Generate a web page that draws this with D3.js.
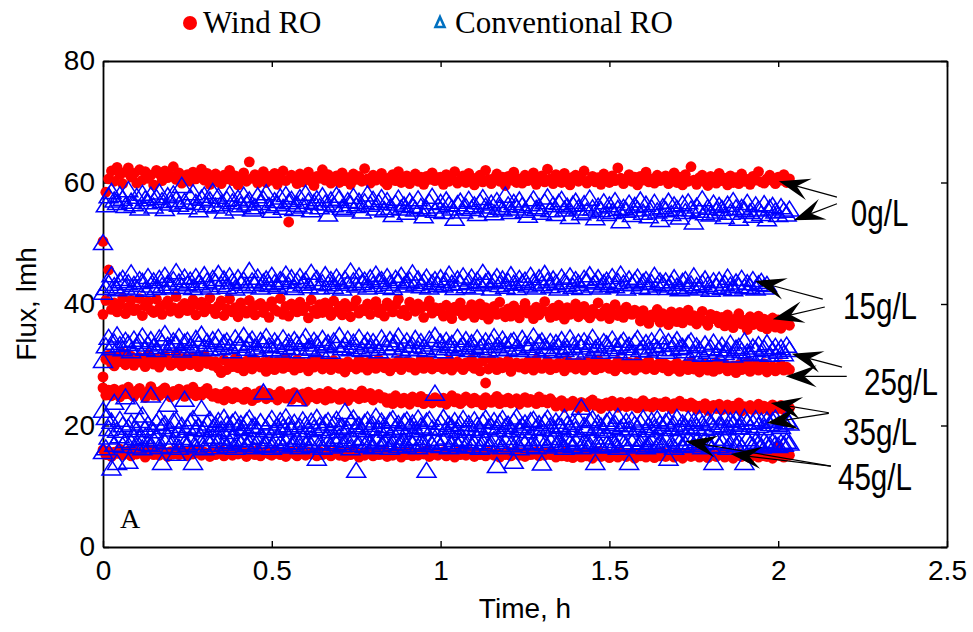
<!DOCTYPE html>
<html>
<head>
<meta charset="utf-8">
<script src="https://cdn.jsdelivr.net/npm/d3@7/dist/d3.min.js"></script>
<style>
  html, body { margin: 0; padding: 0; background: #ffffff; }
  svg { display: block; }
</style>
</head>
<body>
<svg id="chart" width="973" height="632"></svg>
<script>
// ---- Data -------------------------------------------------------------
// Sampling clock shared by every run, minutes from start.
const timeMin = [
  0,0.5,1,1.5,2,2.5,3,3.5,4,4.5,5,5.5,6,6.5,7,7.5,8,8.5,9,9.5,
  10,10.5,11,11.5,12,12.5,13,13.5,14,14.5,15,15.5,16,16.5,17,17.5,18,18.5,19,19.5,
  20,20.5,21,21.5,22,22.5,23,23.5,24,24.5,25,25.5,26,26.5,27,27.5,28,28.5,29,29.5,
  30,30.5,31,31.5,32,32.5,33,33.5,34,34.5,35,35.5,36,36.5,37,37.5,38,38.5,39,39.5,
  40,40.5,41,41.5,42,42.5,43,43.5,44,44.5,45,45.5,46,46.5,47,47.5,48,48.5,49,49.5,
  50,50.5,51,51.5,52,52.5,53,53.5,54,54.5,55,55.5,56,56.5,57,57.5,58,58.5,59,59.5,
  60,60.5,61,61.5,62,62.5,63,63.5,64,64.5,65,65.5,66,66.5,67,67.5,68,68.5,69,69.5,
  70,70.5,71,71.5,72,72.5,73,73.5,74,74.5,75,75.5,76,76.5,77,77.5,78,78.5,79,79.5,
  80,80.5,81,81.5,82,82.5,83,83.5,84,84.5,85,85.5,86,86.5,87,87.5,88,88.5,89,89.5,
  90,90.5,91,91.5,92,92.5,93,93.5,94,94.5,95,95.5,96,96.5,97,97.5,98,98.5,99,99.5,
  100,100.5,101,101.5,102,102.5,103,103.5,104,104.5,105,105.5,106,106.5,107,107.5,108,108.5,109,109.5,
  110,110.5,111,111.5,112,112.5,113,113.5,114,114.5,115,115.5,116,116.5,117,117.5,118,118.5,119,119.5,
  120,120.5,121,121.5,122
];

// Wind-powered RO flux (lmh) per feed salinity
const windFlux0 = [
  50.3,58.4,
  60.6,61.9,60.2,62.5,61.3,59.8,61.7,62.4,60.9,61.5,59.9,62.1,60.4,61.8,60.7,61.2,59.6,62.0,61.4,60.3,
  61.9,60.8,61.1,62.6,60.5,61.6,59.9,60.9,61.3,60.2,61.7,60.6,61.0,62.2,60.4,61.5,59.7,60.8,
  61.4,60.1,59.8,61.2,60.6,62.0,60.3,61.1,59.6,60.9,61.6,60.2,63.4,60.7,61.3,59.9,60.5,61.8,60.0,61.0,
  60.4,61.5,59.7,60.8,61.9,60.3,53.5,61.2,60.6,59.8,61.4,60.1,60.9,61.7,60.2,59.5,61.0,60.7,62.1,60.4,
  61.3,59.9,60.6,61.1,60.0,61.6,60.3,60.8,59.7,61.4,60.5,61.0,60.2,62.3,60.6,59.9,61.2,60.4,60.9,61.5,
  60.1,59.6,60.8,61.3,60.3,61.8,60.0,60.7,61.1,59.8,60.6,61.4,60.2,60.9,59.7,61.0,60.5,61.6,60.3,60.8,
  60.9,59.7,61.3,60.2,60.6,61.8,59.9,60.4,61.1,60.0,61.5,60.3,59.6,60.8,61.2,60.1,62.0,60.5,59.8,60.7,
  61.4,60.2,60.9,59.5,61.0,60.4,61.7,60.0,60.6,59.9,61.2,60.3,60.8,61.6,59.7,60.5,61.1,60.1,62.2,60.6,
  59.8,61.3,60.4,60.0,61.5,60.7,59.6,60.9,61.2,60.2,60.6,61.9,59.9,60.4,61.0,60.1,60.8,59.7,61.4,60.5,
  60.0,61.1,60.3,62.4,60.7,59.8,60.5,61.3,60.2,60.9,59.6,61.0,60.4,61.7,60.1,60.6,59.9,61.2,60.3,60.8,
  61.1,59.8,60.5,61.6,60.0,60.9,59.6,61.3,60.2,62.6,60.4,59.7,60.8,61.2,60.1,59.5,61.0,60.6,59.9,61.5,
  60.3,60.7,59.6,61.1,60.0,60.8,59.8,61.4,60.2,60.5,59.7,61.0,60.4,61.8,60.1,59.9,60.6,61.2,60.3,59.8,
  60.9,60.4,61.3,60.0,60.6
];
const windFlux15 = [
  38.3,40.6,45.6,39.1,
  40.2,38.7,39.8,41.0,38.4,39.5,40.6,38.9,39.2,40.9,38.1,39.7,40.4,39.0,38.6,40.8,39.3,38.3,39.9,40.5,
  38.8,39.4,41.2,38.5,39.6,40.1,38.9,39.2,40.7,38.2,39.8,40.3,38.7,39.5,41.0,39.1,
  38.4,39.7,40.5,38.1,39.2,40.8,38.7,39.4,37.9,40.2,39.0,38.5,40.6,39.3,38.2,39.8,40.1,38.6,39.5,37.8,
  40.4,39.1,38.8,40.9,38.3,39.6,38.0,40.0,39.2,38.7,40.3,38.9,39.5,37.7,40.7,39.0,38.4,39.9,38.6,40.2,
  39.3,38.1,40.5,38.8,39.6,38.2,40.1,39.4,37.9,39.7,40.6,38.5,39.1,38.9,40.0,38.3,39.8,40.4,38.6,39.2,
  38.0,40.2,39.5,38.7,39.9,40.8,38.4,39.0,38.1,40.3,39.6,38.8,40.0,39.3,37.8,39.7,40.5,38.5,39.4,38.9,
  39.3,38.0,39.8,38.4,37.6,39.5,38.9,40.2,38.1,39.0,38.5,39.9,37.8,38.7,40.0,38.2,39.4,37.5,38.8,39.6,
  38.3,40.3,38.6,37.9,39.2,38.0,39.7,38.4,37.7,39.1,40.1,38.5,38.9,37.6,39.5,38.2,39.0,40.4,38.7,37.8,
  39.3,38.1,39.8,38.6,37.5,39.4,38.3,38.9,40.0,37.9,38.8,39.6,38.2,37.7,39.1,38.5,40.2,38.0,38.7,39.3,
  37.6,38.4,39.9,38.1,38.9,37.8,39.5,38.6,38.3,39.0,
  38.5,37.2,38.9,37.6,36.8,38.2,37.9,39.1,37.0,38.4,37.5,36.6,38.7,37.8,37.1,38.6,36.9,37.7,39.0,37.3,
  38.1,36.7,37.9,38.8,37.2,36.5,38.3,37.6,38.0,36.9,
  37.8,36.4,38.2,37.0,36.1,37.6,38.4,36.7,37.3,35.8,37.9,36.6,37.1,38.0,36.3,37.5,35.9,36.9,37.7,36.2,
  37.4,36.0,36.8,37.6,36.5
];
const windFlux25 = [
  28.0,
  30.9,31.6,30.2,29.8,31.3,30.5,31.9,30.0,30.7,31.4,29.9,30.8,31.2,30.3,29.7,31.7,30.6,30.1,31.0,29.6,
  30.4,31.5,30.8,29.9,30.2,31.8,30.5,29.8,31.1,30.7,30.0,31.3,30.4,29.7,30.9,31.6,30.2,30.6,29.9,
  30.5,29.4,28.7,30.8,29.2,30.2,29.7,31.0,29.5,30.3,29.0,30.6,29.9,29.3,30.9,30.1,29.6,30.4,28.9,30.7,
  29.8,29.2,30.5,30.0,29.4,31.1,29.7,30.2,29.1,30.8,29.5,30.3,29.9,29.0,30.6,29.6,30.1,30.9,29.3,29.8,
  30.4,29.2,30.7,29.9,29.4,30.2,28.8,30.5,29.7,30.0,29.3,30.8,29.6,30.3,29.1,30.6,29.8,29.4,30.9,30.1,
  29.5,30.4,29.0,30.2,29.7,30.7,29.2,29.9,30.5,29.6,30.3,29.1,30.0,30.8,29.4,29.8,30.6,29.3,30.1,29.7,
  30.4,29.3,30.1,30.7,29.1,29.9,30.5,29.6,29.2,30.3,29.8,30.9,29.4,30.2,29.0,30.6,27.0,29.3,30.8,30.0,
  29.2,30.4,29.5,30.1,30.7,28.9,29.8,30.3,29.6,30.2,29.3,30.5,29.9,29.1,30.8,29.7,29.4,30.1,30.6,29.2,
  30.0,29.5,30.3,29.8,29.0,30.7,29.6,30.2,29.3,30.4,29.9,29.1,30.5,29.7,30.1,29.2,30.8,29.5,30.0,30.3,
  29.4,29.9,29.0,30.6,29.7,30.2,29.3,30.4,29.8,29.1,30.5,29.6,30.1,29.3,30.7,29.9,29.2,30.0,30.3,29.5,
  30.1,29.0,29.8,29.4,30.3,28.9,29.6,30.0,29.2,30.5,29.3,29.9,28.8,29.5,30.2,29.1,29.7,28.9,30.4,29.3,
  29.6,30.1,29.0,29.4,29.8,28.7,30.0,29.2,29.5,30.3,28.9,29.6,29.9,29.1,29.4,30.2,28.8,29.5,29.7,29.0,
  29.3,30.0,29.1,29.6,29.2
];
const windFlux35 = [
  26.2,25.0,25.8,24.9,26.0,25.4,24.7,25.9,25.2,26.3,25.1,24.8,25.7,26.1,25.3,24.6,25.6,26.4,25.0,25.5,
  24.9,25.8,26.2,25.2,24.7,25.6,25.1,26.0,25.4,24.8,25.9,25.3,26.3,24.9,25.5,25.0,25.7,26.1,25.2,24.8,
  25.3,24.5,25.1,24.2,25.6,24.9,24.4,25.4,24.7,25.0,24.3,25.5,24.8,24.1,25.2,24.6,25.7,24.9,24.4,25.3,
  24.7,25.0,24.2,25.6,24.8,24.5,25.1,24.3,25.4,24.9,24.6,25.2,24.0,25.5,24.7,25.0,24.4,25.3,24.8,24.2,
  25.6,24.5,25.1,24.9,24.3,25.4,24.7,24.1,25.2,24.8,25.0,24.4,25.7,24.6,24.9,25.3,24.2,24.8,25.1,24.5,
  24.6,23.8,24.4,23.6,24.9,24.1,23.7,24.5,24.0,23.5,24.7,24.2,23.9,24.8,23.6,24.3,24.0,23.7,24.6,24.1,
  23.8,24.5,23.5,24.2,24.9,23.9,24.4,23.6,24.0,24.7,24.2,23.7,24.5,23.9,24.1,23.4,24.6,24.0,23.8,24.3,
  24.8,23.6,24.2,23.9,24.5,23.7,24.1,24.4,23.5,24.0,24.6,23.8,24.3,24.0,23.6,24.7,23.9,24.2,23.7,24.4,
  23.9,23.2,23.7,24.1,23.0,23.6,23.3,24.0,23.5,22.9,23.8,23.4,23.1,23.9,24.2,23.3,23.6,22.8,23.5,23.7,
  23.2,24.0,23.4,23.0,23.8,23.5,23.1,23.9,23.3,23.6,22.9,23.7,24.1,23.2,23.5,23.0,23.8,23.4,23.6,23.1,
  23.9,23.3,22.8,23.6,23.4,24.0,23.2,23.5,23.0,23.7,
  23.4,22.7,23.2,22.9,23.6,22.5,23.1,23.3,22.8,23.5,22.6,23.0,23.4,22.7,23.2,22.9,23.7,22.4,23.1,22.8,
  23.3,22.6,23.0,23.5,22.7,23.2,22.9,22.5,23.4,23.0,22.8,23.3,22.6,23.1,22.9
];
const windFlux45 = [
  16.0,15.2,15.7,14.9,15.6,15.4,16.1,15.1,15.5,15.8,15.0,15.9,15.3,15.5,15.7,14.8,15.4,16.0,15.2,15.6,
  15.1,15.8,15.5,14.9,15.7,15.3,15.9,15.2,15.4,15.6,15.0,15.8,15.3,15.5,16.0,15.1,15.6,15.4,14.9,15.7,
  15.2,15.5,15.9,15.0,15.4,15.6,15.1,15.8,15.3,15.5,15.7,14.9,15.4,15.6,15.2,15.9,15.0,15.5,15.7,15.3,
  15.1,15.8,15.4,15.2,15.6,14.9,15.5,15.7,15.3,15.0,15.8,15.4,15.1,15.6,15.3,15.5,15.0,15.7,15.2,15.4,
  15.7,15.0,15.5,15.8,15.1,15.4,14.9,15.6,15.2,15.9,15.3,14.8,15.5,15.1,15.7,15.4,15.0,15.6,15.2,15.3,
  15.8,14.9,15.4,15.1,15.6,15.3,14.8,15.5,15.2,15.7,15.0,15.4,15.1,15.6,15.3,15.8,14.9,15.2,15.5,15.1,
  15.4,15.7,15.0,15.3,15.5,14.8,15.6,15.2,15.4,15.1,15.7,15.3,14.9,15.5,15.2,15.4,15.0,15.6,15.3,15.1,
  15.5,14.8,15.4,15.2,15.7,15.0,15.3,15.6,15.1,15.4,14.9,15.5,15.2,15.3,15.7,15.0,15.4,15.1,15.6,15.2,
  15.5,14.8,15.3,15.0,15.6,14.9,15.2,14.7,15.4,15.1,14.8,15.5,15.0,15.3,14.6,15.2,15.7,14.9,15.1,15.4,
  14.7,15.0,15.3,14.8,15.6,15.1,14.9,15.4,15.2,14.6,15.3,15.0,15.5,14.8,15.1,15.4,14.7,15.2,15.0,15.6,
  14.9,15.3,15.1,14.8,15.5,15.0,14.6,15.2,15.4,14.9,15.1,15.7,14.8,15.3,15.0,14.7,15.4,15.1,14.9,15.2,
  15.5,14.8,15.0,15.3,14.6,15.1,15.4,14.9,15.2,15.0,14.7,15.3,15.1,14.8,15.5,15.0,14.9,15.2,14.6,15.1,
  16.6,15.0,14.8,15.2,15.1
];

// Conventional RO flux (lmh) per feed salinity
const convFlux0 = [
  50.2,
  56.4,57.9,58.6,57.2,56.8,58.1,57.5,56.3,58.9,57.0,56.6,57.8,55.9,58.3,57.4,56.9,58.0,56.2,57.6,58.5,
  57.1,55.8,57.9,56.7,58.2,57.3,56.5,59.6,57.0,56.1,57.7,58.4,56.8,55.6,57.5,58.0,56.4,57.2,58.6,
  56.2,57.8,56.6,55.4,57.3,58.2,56.9,55.9,57.5,56.4,58.0,56.7,57.2,55.7,56.1,57.9,56.8,57.4,58.4,56.3,
  55.5,57.1,56.6,57.7,56.0,58.1,56.9,57.3,55.8,56.5,57.6,56.2,58.3,57.0,55.6,56.8,57.4,56.1,57.9,56.7,
  54.9,57.2,56.4,58.0,57.5,56.0,55.7,57.1,56.6,57.8,56.3,57.0,55.4,56.9,58.2,56.5,57.3,55.9,56.8,57.6,
  55.6,57.1,56.0,54.8,56.7,57.5,55.9,56.4,55.2,57.0,56.3,55.7,57.4,56.1,54.6,55.8,56.9,57.8,55.5,56.2,
  56.8,55.3,57.2,56.5,55.9,54.2,56.6,57.0,55.4,56.1,57.3,55.8,56.4,55.0,56.9,57.6,56.2,55.6,56.7,55.1,
  57.1,56.0,55.7,58.0,56.4,55.3,56.8,55.9,57.2,56.3,55.5,54.7,56.6,57.4,55.8,56.1,55.2,56.9,57.7,55.6,
  56.4,55.0,56.8,57.3,55.7,56.2,54.5,56.5,57.0,55.9,
  55.1,56.6,55.4,57.5,55.9,54.3,56.2,55.6,56.9,55.0,56.4,55.3,57.1,55.8,53.8,56.0,55.5,56.7,54.8,56.3,
  55.7,57.2,55.2,56.5,54.6,55.9,56.8,55.4,54.0,56.1,55.6,57.0,55.0,56.4,55.8,54.4,56.6,55.3,56.9,55.7,
  53.6,56.2,55.5,57.4,55.1,56.0,54.9,56.7,55.4,56.3,55.8,54.5,56.5,55.2,57.1,55.9,54.2,56.0,55.6,56.8,
  55.3,54.7,56.4,55.7,55.0,56.6,54.1,55.9,56.3,55.4,54.8,56.1,55.5,54.9,55.7
];
const convFlux15 = [
  42.0,
  42.8,43.5,44.9,43.1,42.6,43.9,44.3,42.9,43.6,45.2,43.3,42.7,44.1,43.8,42.5,44.6,43.2,43.9,42.8,
  44.3,43.1,44.8,43.5,42.9,44.1,45.4,43.7,43.0,44.5,43.4,44.0,42.8,44.6,43.6,43.2,44.9,43.9,42.9,44.3,
  43.7,45.1,43.3,44.2,43.0,44.7,43.8,42.7,44.4,43.5,44.0,43.1,45.6,43.9,43.4,44.5,42.9,43.7,44.2,43.3,
  44.8,43.6,43.0,44.1,43.8,45.0,43.2,44.4,42.8,43.9,44.6,43.5,44.0,43.1,45.3,43.7,44.3,42.9,43.6,44.9,
  43.4,44.1,43.0,44.5,43.8,42.7,44.2,43.5,45.5,43.9,43.2,44.7,43.6,44.0,42.9,44.4,43.3,45.0,43.8,44.1,
  43.0,44.6,43.5,42.8,44.3,43.9,44.8,43.2,43.7,44.0,45.2,43.4,44.2,43.1,43.8,44.5,42.9,43.6,44.1,43.3,
  44.4,43.2,43.9,45.0,43.5,42.8,44.2,43.6,44.7,43.1,43.8,44.5,42.9,44.0,43.4,45.3,43.7,44.1,42.7,43.9,
  44.6,43.3,44.2,43.0,43.8,44.9,43.5,42.8,44.3,43.6,44.0,43.2,44.8,43.7,42.9,44.4,43.4,45.1,43.9,43.1,
  44.2,43.6,42.7,44.5,43.8,43.3,44.7,43.0,44.1,43.5,42.8,44.3,43.9,44.9,43.2,43.7,44.4,42.9,43.6,44.0,
  43.3,44.6,43.1,43.8,45.0,43.5,42.7,44.2,43.4,43.9,44.5,43.0,43.7,44.1,42.8,43.6,44.8,43.2,43.9,43.4,
  43.9,42.8,43.5,44.4,43.0,42.6,43.8,44.1,42.9,43.4,44.7,43.1,42.7,43.6,44.2,43.3,42.5,43.9,43.0,44.0,
  42.8,43.5,44.5,43.2,42.6,43.7,43.1,44.3,42.9,43.6,43.0,44.1,42.7,43.4,43.8,42.9,43.3
];
const convFlux25 = [
  30.8,
  33.2,34.6,32.9,33.8,35.0,33.4,32.7,34.1,33.6,32.4,34.3,33.0,33.9,34.8,32.8,33.5,34.2,33.1,32.6,34.5,
  33.7,35.2,33.3,32.9,34.0,33.6,34.7,32.5,33.8,34.1,33.2,32.8,34.4,33.5,35.1,33.0,33.9,32.7,34.2,33.4,
  34.6,32.9,33.7,34.0,33.1,32.4,34.5,33.6,33.3,34.9,32.8,33.8,34.3,33.0,32.6,34.1,33.5,34.7,33.2,
  32.7,34.0,33.4,32.5,34.5,33.1,33.8,32.9,34.2,33.6,32.4,33.9,34.7,33.0,32.8,34.1,33.5,32.6,34.4,33.2,
  33.7,32.3,34.0,33.4,34.9,32.9,33.3,34.3,32.7,33.8,33.1,34.6,32.6,33.5,34.1,32.8,33.9,33.2,32.4,34.5,
  33.6,32.9,34.2,33.0,33.7,34.8,32.5,33.4,34.0,32.8,33.3,34.4,32.7,33.9,33.1,32.6,34.3,33.5,34.9,32.9,
  33.8,32.4,34.1,33.2,33.6,32.8,34.6,33.0,33.4,34.2,32.6,33.7,33.1,34.5,32.9,33.3,34.0,32.5,33.8,34.7,
  33.2,32.7,34.3,33.5,32.8,33.9,34.1,33.0,32.6,34.4,33.6,32.9,33.3,34.8,32.5,33.7,34.0,33.1,32.7,33.9,
  32.4,33.7,33.1,34.2,32.6,32.9,34.5,33.3,32.2,33.8,33.0,34.0,32.5,33.4,34.6,32.8,33.2,32.3,33.9,33.5,
  32.7,34.3,33.1,32.4,33.6,34.1,32.9,33.3,32.1,33.8,34.4,32.6,33.0,33.7,32.5,34.0,33.2,32.8,34.7,33.4,
  32.3,33.9,32.7,33.5,34.2,32.9,33.1,32.4,33.6,34.0,
  32.0,33.2,32.6,31.8,33.5,32.3,32.9,33.8,31.9,32.7,33.3,32.1,32.5,33.6,31.7,32.8,33.1,32.4,34.0,32.2,
  31.9,33.0,32.6,33.4,32.0,32.8,33.7,31.8,32.5,33.1,32.3,32.9,31.9,33.3,32.6
];
const convFlux35 = [
  22.6,21.4,19.6,20.8,23.9,19.3,21.1,20.2,24.8,19.8,
  20.5,23.2,19.4,20.9,21.8,19.7,20.3,25.1,19.2,20.6,21.3,19.9,20.4,23.6,19.5,20.8,21.0,19.3,20.1,24.4,
  19.8,20.7,21.2,19.6,20.0,22.9,19.4,20.5,21.1,19.7,20.2,20.9,19.5,21.4,20.3,19.1,20.6,21.0,19.8,20.4,
  19.6,20.8,21.3,19.9,20.1,19.4,20.7,25.6,19.7,20.5,21.2,19.3,20.0,20.9,19.8,21.5,20.2,19.5,20.6,24.5,
  19.9,21.0,20.3,19.4,20.8,19.7,21.4,20.1,19.6,20.5,20.9,19.2,20.4,21.1,19.8,20.0,22.4,19.5,20.7,21.3,
  19.9,20.2,19.4,20.6,21.0,19.7,20.3,21.6,19.6,20.8,20.1,19.3,20.9,21.2,19.8,20.4,19.5,20.7,21.0,19.9,
  20.5,19.4,21.3,20.0,19.7,20.8,21.1,19.6,25.4,19.8,20.6,21.4,19.5,20.3,19.9,20.9,19.3,20.4,21.2,19.7,
  20.4,19.6,21.0,20.2,19.3,20.7,21.3,19.8,20.0,20.9,19.5,20.6,21.2,19.9,20.3,19.4,20.8,21.5,19.7,20.1,
  20.5,19.2,20.9,21.1,19.8,20.4,19.6,20.7,21.3,20.0,19.5,20.8,20.2,19.9,21.4,20.3,19.7,20.6,19.4,21.0,
  23.1,20.1,19.8,20.9,21.2,19.6,20.5,20.0,19.3,20.7,21.1,19.9,20.4,21.6,19.7,20.2,20.8,19.5,21.0,20.3,
  19.8,20.6,21.3,19.4,20.1,20.9,19.7,21.2,20.4,19.9,20.7,21.0,19.6,20.3,21.4,19.8,20.5,20.0,21.1,19.7,
  20.8,19.9,21.2,20.4,19.6,21.0,20.6,19.8,21.5,20.2,20.0,21.3,19.7,20.9,20.5,21.1,19.9,20.3,21.4,20.7,
  19.8,20.6,21.2,20.1,20.8,19.7,21.0,20.4,20.9,21.3,20.2,19.9,20.7,21.1,20.5
];
const convFlux45 = [
  15.8,16.4,18.2,13.1,17.0,14.0,18.4,16.8,17.6,14.2,
  17.3,18.1,16.7,17.9,16.4,18.3,17.1,16.9,17.7,18.0,16.6,14.0,17.4,18.2,16.8,17.5,15.5,16.5,18.1,17.2,
  16.9,17.8,14.0,16.7,18.0,17.3,16.4,17.9,17.0,18.3,16.6,17.6,18.2,17.1,16.8,17.4,18.0,16.5,17.7,17.2,
  17.8,16.9,17.2,18.1,16.6,17.5,18.3,16.8,17.0,17.9,16.5,17.6,18.0,17.1,16.7,17.4,18.2,16.9,17.3,17.8,
  16.6,18.1,17.0,17.5,16.8,17.9,14.7,17.2,16.5,18.0,17.4,16.7,17.8,17.1,18.3,16.9,17.3,17.6,16.4,17.9,
  12.7,17.0,18.1,16.8,17.5,17.2,16.6,17.7,18.0,16.9,17.4,17.8,16.5,17.1,18.2,16.8,17.3,17.6,16.7,17.9,
  17.0,18.1,16.6,17.4,17.2,12.7,17.7,16.9,18.0,17.3,16.8,17.5,18.2,16.6,17.1,17.8,16.9,17.4,18.0,16.7,
  17.6,16.8,17.2,18.0,16.5,17.4,17.9,16.7,17.1,17.8,13.5,17.0,16.6,17.5,18.1,16.9,14.2,17.3,16.4,17.7,
  17.2,18.0,16.8,17.4,16.6,17.9,13.9,17.1,16.7,17.6,18.1,16.9,17.3,17.0,16.5,17.8,17.2,16.8,17.5,18.0,
  16.6,17.4,17.1,16.9,17.7,14.0,17.3,16.7,18.2,17.0,16.8,17.6,17.2,16.5,17.9,17.1,16.9,14.0,17.4,18.0,
  16.7,17.3,17.8,16.6,17.0,17.5,18.1,16.8,17.2,16.9,17.7,14.7,17.1,16.5,17.9,17.4,16.8,17.0,18.0,17.3,
  16.9,17.6,17.0,16.6,17.8,17.3,16.7,14.0,17.5,16.8,17.4,18.0,16.5,17.1,17.7,16.9,17.2,16.6,14.0,17.9,
  17.0,16.8,17.5,17.2,16.7,17.6,17.1,16.9,17.4,17.0,16.8,17.3,17.0,17.5,17.2
];

const salinityLabels = ["0g/L", "15g/L", "25g/L", "35g/L", "45g/L"];
const windSeries = [windFlux0, windFlux15, windFlux25, windFlux35, windFlux45];
const convSeries = [convFlux0, convFlux15, convFlux25, convFlux35, convFlux45];

const xTicks = [0, 0.5, 1, 1.5, 2, 2.5];
const xTickLabels = ["0", "0.5", "1", "1.5", "2", "2.5"];
const yTicks = [0, 20, 40, 60, 80];
const yTickLabels = ["0", "20", "40", "60", "80"];

// Callouts: label anchor and arrow tips, in data units (h, lmh)
const callouts = [
  { label: "0g/L",  text: [2.215, 52.8], from: [[2.174, 57.6], [2.174, 56.5]], to: [[2.002, 60.2], [2.046, 53.8]] },
  { label: "15g/L", text: [2.192, 37.5], from: [[2.132, 40.8], [2.138, 39.5]], to: [[1.931, 43.8], [1.984, 37.5]] },
  { label: "25g/L", text: [2.254, 25.0], from: [[2.189, 29.6], [2.203, 28.1]], to: [[2.040, 31.8], [2.022, 28.1]] },
  { label: "35g/L", text: [2.192, 16.8], from: [[2.150, 22.1], [2.150, 22.0]], to: [[1.978, 23.7], [1.966, 20.4]] },
  { label: "45g/L", text: [2.177, 9.4],  from: [[2.156, 13.3], [2.156, 13.3]], to: [[1.726, 17.4], [1.859, 15.3]] }
];

// ---- Layout -----------------------------------------------------------
const W = 973, H = 632;
const plot = { left: 103, right: 947, top: 61, bottom: 547 };
const SANS = "'Liberation Sans', Arial, Helvetica, sans-serif";
const SERIF = "'Liberation Serif', 'Times New Roman', Times, serif";

const svg = d3.select("#chart");
svg.append("rect").attr("width", W).attr("height", H).attr("fill", "#ffffff");

const x = d3.scaleLinear().domain([0, 2.5]).range([plot.left, plot.right]);
const y = d3.scaleLinear().domain([0, 80]).range([plot.bottom, plot.top]);

// ---- Axes box with inward ticks -----------------------------------------
const axisColor = "#000000";
const tickLen = 6;

function styleAxis(g) {
  g.selectAll("path.domain").attr("stroke", axisColor).attr("stroke-width", 1.8);
  g.selectAll(".tick line").attr("stroke", axisColor).attr("stroke-width", 1.4);
  g.selectAll(".tick text").attr("fill", "#000").attr("font-family", SANS).attr("font-size", 28);
}

const gBottom = svg.append("g").attr("transform", `translate(0,${plot.bottom})`)
  .call(d3.axisBottom(x).tickValues(xTicks).tickFormat((d, i) => xTickLabels[i])
    .tickSizeInner(-tickLen).tickSizeOuter(0).tickPadding(13));
styleAxis(gBottom);

const gTop = svg.append("g").attr("transform", `translate(0,${plot.top})`)
  .call(d3.axisTop(x).tickValues(xTicks).tickFormat("").tickSizeInner(-tickLen).tickSizeOuter(0));
styleAxis(gTop);

const gLeft = svg.append("g").attr("transform", `translate(${plot.left},0)`)
  .call(d3.axisLeft(y).tickValues(yTicks).tickFormat((d, i) => yTickLabels[i])
    .tickSizeInner(-tickLen).tickSizeOuter(0).tickPadding(8));
styleAxis(gLeft);

const gRight = svg.append("g").attr("transform", `translate(${plot.right},0)`)
  .call(d3.axisRight(y).tickValues(yTicks).tickFormat("").tickSizeInner(-tickLen).tickSizeOuter(0));
styleAxis(gRight);

// Axis titles
svg.append("text")
  .attr("x", (plot.left + plot.right) / 2).attr("y", 618)
  .attr("text-anchor", "middle").attr("font-family", SANS).attr("font-size", 28)
  .text("Time, h");

svg.append("text")
  .attr("transform", `translate(36,${(plot.top + plot.bottom) / 2}) rotate(-90)`)
  .attr("text-anchor", "middle").attr("font-family", SANS).attr("font-size", 28)
  .text("Flux, lmh");

// ---- Markers ------------------------------------------------------------
const redR = 5.4;
const triW = 19, triH = 15;
const triPath = `M0,${-triH / 2}L${triW / 2},${triH / 2}L${-triW / 2},${triH / 2}Z`;

function toPoints(values) {
  return values.map((v, i) => ({ t: timeMin[i] / 60, v })).filter(d => !isNaN(d.t));
}

const gWind = svg.append("g").attr("class", "wind-ro");
windSeries.forEach((vals, k) => {
  gWind.append("g").attr("data-salinity", salinityLabels[k])
    .selectAll("circle").data(toPoints(vals)).join("circle")
    .attr("cx", d => x(d.t)).attr("cy", d => y(d.v)).attr("r", redR)
    .attr("fill", "#ff0000");
});

const gConv = svg.append("g").attr("class", "conventional-ro");
convSeries.forEach((vals, k) => {
  gConv.append("g").attr("data-salinity", salinityLabels[k])
    .selectAll("path").data(toPoints(vals)).join("path")
    .attr("d", triPath)
    .attr("transform", d => `translate(${x(d.t)},${y(d.v)})`)
    .attr("fill", "none").attr("stroke", "#0000ff").attr("stroke-width", 1.5);
});

// ---- Callout arrows and labels -----------------------------------------
const headLen = 31, headHalf = 11, notch = 0.6;
const gCall = svg.append("g").attr("class", "callouts");
callouts.forEach(c => {
  c.to.forEach((tip, j) => {
    const sx = x(c.from[j][0]), sy = y(c.from[j][1]);
    const tx = x(tip[0]), ty = y(tip[1]);
    const ang = Math.atan2(ty - sy, tx - sx);
    const ex = tx - Math.cos(ang) * headLen * notch;
    const ey = ty - Math.sin(ang) * headLen * notch;
    gCall.append("line")
      .attr("x1", sx).attr("y1", sy).attr("x2", ex).attr("y2", ey)
      .attr("stroke", "#000").attr("stroke-width", 1.2);
    gCall.append("path")
      .attr("d", `M0,0L${-headLen},${-headHalf}L${-headLen * notch},0L${-headLen},${headHalf}Z`)
      .attr("transform", `translate(${tx},${ty}) rotate(${ang * 180 / Math.PI})`)
      .attr("fill", "#000");
  });
  gCall.append("text")
    .attr("transform", `translate(${x(c.text[0])},${y(c.text[1])}) scale(0.8,1)`)
    .attr("font-family", SANS).attr("font-size", 37).attr("fill", "#000")
    .text(c.label);
});

// Panel letter
svg.append("text")
  .attr("x", 120).attr("y", 528)
  .attr("font-family", SERIF).attr("font-size", 28).attr("fill", "#000")
  .text("A");

// ---- Legend -------------------------------------------------------------
const gLeg = svg.append("g").attr("class", "legend");
gLeg.append("circle").attr("cx", 190).attr("cy", 23).attr("r", 7).attr("fill", "#ff0000");
gLeg.append("text").attr("x", 203).attr("y", 33)
  .attr("font-family", SERIF).attr("font-size", 31).attr("fill", "#000").text("Wind RO");
gLeg.append("path")
  .attr("d", "M0,-5L4.5,5L-4.5,5Z")
  .attr("transform", "translate(440,22)")
  .attr("fill", "none").attr("stroke", "#0070c0").attr("stroke-width", 2.6).attr("stroke-linejoin", "miter");
gLeg.append("text").attr("x", 455).attr("y", 33)
  .attr("font-family", SERIF).attr("font-size", 31).attr("fill", "#000").text("Conventional RO");
</script>
</body>
</html>
